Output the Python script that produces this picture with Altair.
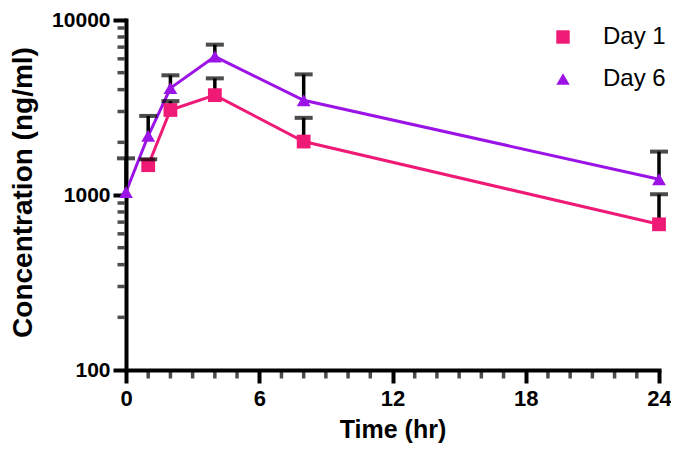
import altair as alt
import pandas as pd

# ---------------- data ----------------
series_names = ["Day 1", "Day 6"]
series_colors = ["#EE1A76", "#9B13E6"]

time_day1 = [1, 2, 4, 8, 24]
conc_day1 = [1480, 3060, 3720, 2020, 680]
upper_day1 = [1600, 3440, 4640, 2760, 1010]

time_day6 = [0, 1, 2, 4, 8, 24]
conc_day6 = [1040, 2180, 4080, 6180, 3480, 1230]
upper_day6 = [1620, 2830, 4830, 7230, 4890, 1770]

x_major = [0, 6, 12, 18, 24]
x_minor = [1, 2, 3, 4, 5, 7, 8, 9, 10, 11, 13, 14, 15, 16, 17, 19, 20, 21, 22, 23]
y_major = [100, 1000, 10000]
y_minor = [200, 300, 400, 500, 600, 700, 800, 900,
           2000, 3000, 4000, 5000, 6000, 7000, 8000, 9000]

rows = []
for t, c, u in zip(time_day1, conc_day1, upper_day1):
    rows.append({"Series": series_names[0], "Time": t, "Conc": c, "Upper": u})
for t, c, u in zip(time_day6, conc_day6, upper_day6):
    rows.append({"Series": series_names[1], "Time": t, "Conc": c, "Upper": u})
df = pd.DataFrame(rows)
x_minor_df = pd.DataFrame({"v": x_minor})
y_minor_df = pd.DataFrame({"v": y_minor})

FONT = "Arial"

x_scale = alt.Scale(domain=[0, 24], nice=False, zero=False)
y_scale = alt.Scale(type="log", domain=[100, 10000], nice=False)
color_scale = alt.Scale(domain=series_names, range=series_colors)
shape_scale = alt.Scale(domain=series_names, range=["square", "triangle-up"])

x_axis = alt.Axis(
    orient="bottom", values=x_major, format="d", grid=False,
    labelFont=FONT, labelFontSize=22, labelFontWeight="bold", labelColor="black",
    labelPadding=5, labelFlush=False, labelOverlap=False,
    tickSize=13, tickWidth=4, tickColor="black",
    domainColor="black", domainWidth=4, domainCap="square",
    title="Time (hr)", titleFont=FONT, titleFontSize=25, titleFontWeight="bold",
    titleColor="black", titleY=67, titleBaseline="alphabetic",
)
y_axis = alt.Axis(
    orient="left", values=y_major, format="d", grid=False,
    labelFont=FONT, labelFontSize=21, labelFontWeight="bold", labelColor="black",
    labelPadding=3, labelOverlap=False,
    tickSize=13, tickWidth=4, tickColor="black",
    domainColor="black", domainWidth=4, domainCap="square",
    title="Concentration (ng/ml)", titleFont=FONT, titleFontSize=28,
    titleFontWeight="bold", titleColor="black", titleX=-103, titleY=172,
    titleAngle=270, titleAlign="center", titleBaseline="middle",
)

base = alt.Chart(df)

# every layer carries the same explicit axis definition, so merging is clean
X = alt.X("Time:Q", scale=x_scale, axis=x_axis)
Y = alt.Y("Conc:Q", scale=y_scale, axis=y_axis)

# minor ticks (positions through the axis scales)
x_minor_ticks = alt.Chart(x_minor_df).mark_tick(
    orient="vertical", size=7, thickness=3.5, color="black", yOffset=5
).encode(
    x=alt.X("v:Q", scale=x_scale, axis=x_axis),
    y=alt.YDatum(100, type="quantitative", scale=y_scale, axis=y_axis),
)
y_minor_ticks = alt.Chart(y_minor_df).mark_tick(
    orient="horizontal", size=7, thickness=3.5, color="black", xOffset=-5
).encode(
    x=alt.XDatum(0, type="quantitative", scale=x_scale, axis=x_axis),
    y=alt.Y("v:Q", scale=y_scale, axis=y_axis),
)

# error-bar stems
stems = base.mark_rule(color="black", strokeWidth=3.5).encode(
    x=X, y=Y, y2=alt.Y2("Upper:Q"),
)

line1 = base.transform_filter(alt.datum.Series == series_names[0]).mark_line(
    strokeWidth=3, color=series_colors[0]
).encode(x=X, y=Y)
line6 = base.transform_filter(alt.datum.Series == series_names[1]).mark_line(
    strokeWidth=3, color=series_colors[1]
).encode(x=X, y=Y)

legend_def = alt.Legend(
    orient="none", legendX=425, legendY=5, title=None, padding=0,
    symbolSize=180, symbolStrokeWidth=0,
    labelFont=FONT, labelFontSize=24, labelColor="black",
    labelOffset=28, rowPadding=18,
)

pts = base.mark_point(filled=True, size=190, opacity=1).encode(
    x=X, y=Y,
    color=alt.Color("Series:N", scale=color_scale, legend=legend_def),
    shape=alt.Shape("Series:N", scale=shape_scale, legend=legend_def),
)

caps = base.mark_tick(orient="horizontal", size=18, thickness=4, color="black").encode(
    x=X, y=alt.Y("Upper:Q", scale=y_scale, axis=y_axis),
)

chart = alt.layer(line1, line6, x_minor_ticks, y_minor_ticks, stems, pts, caps).properties(
    width=533,
    height=350,
    autosize=alt.AutoSizeParams(type="none"),
    padding={"left": 118, "top": 12, "right": 12, "bottom": 74},
    background="white",
).configure_view(stroke="transparent")

chart.save("out.html", embed_options={"renderer": "svg", "actions": False})
